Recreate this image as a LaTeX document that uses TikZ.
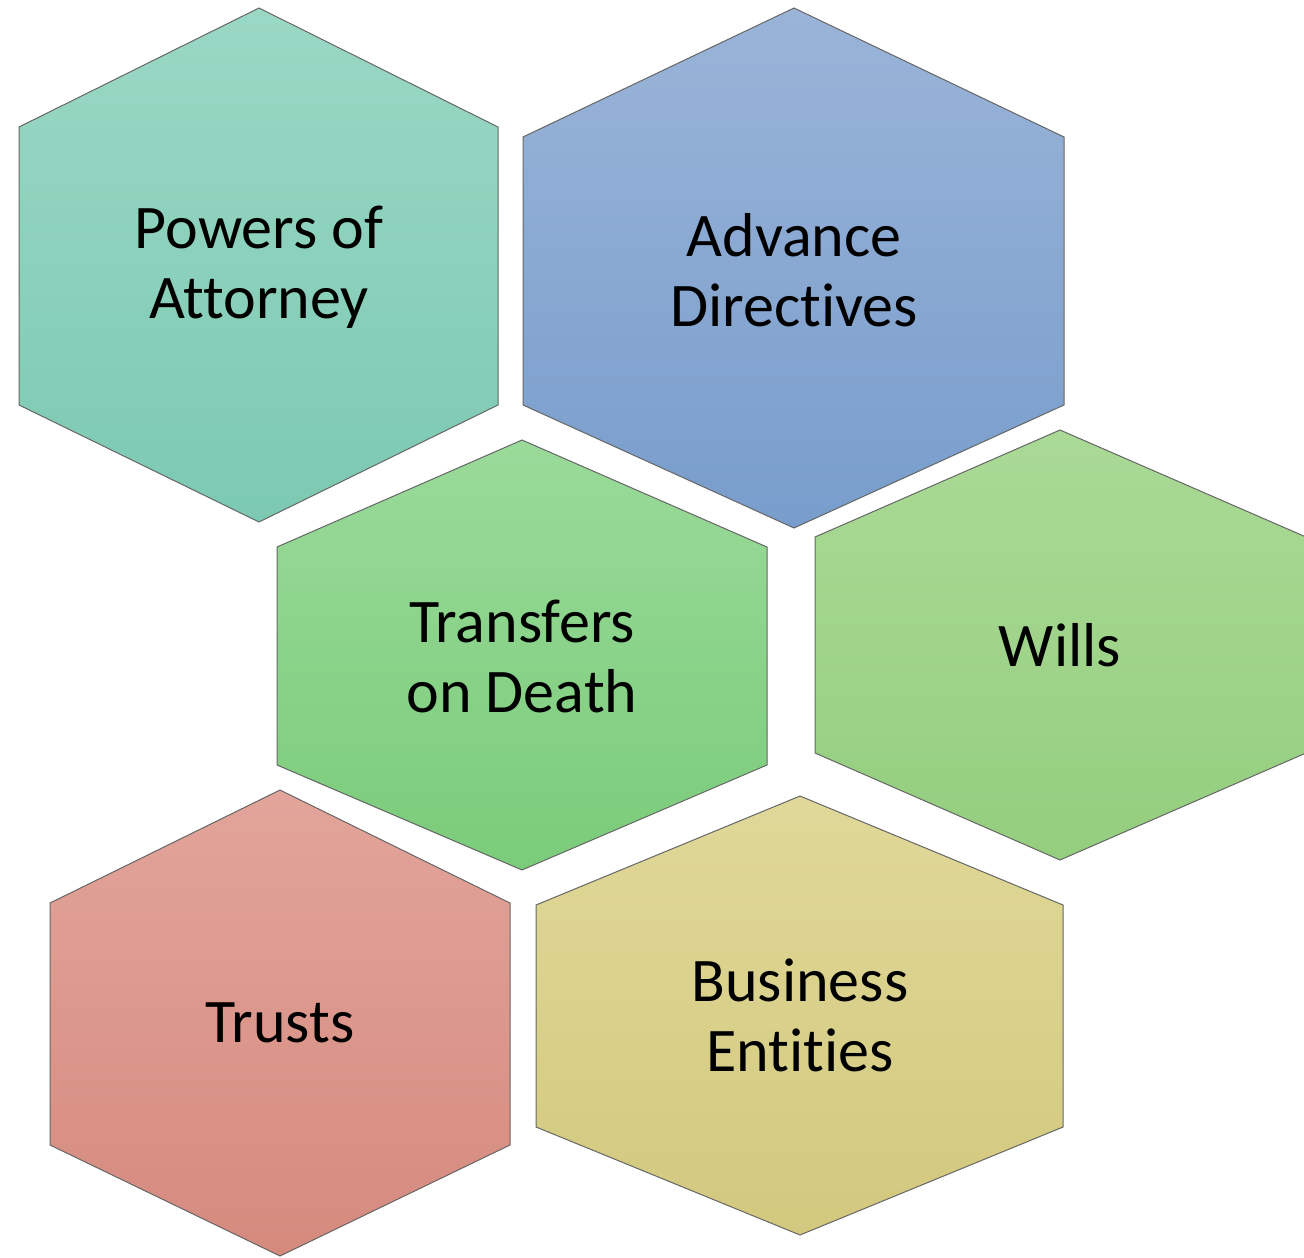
\documentclass[tikz,border=0pt]{standalone}
\usepackage{fontspec}
\newfontfamily\hexfont[Ligatures={NoCommon}]{Carlito}
\definecolor{tealT}{RGB}{154,216,196}
\definecolor{tealB}{RGB}{124,201,178}
\definecolor{blueT}{RGB}{154,180,216}
\definecolor{blueB}{RGB}{120,157,204}
\definecolor{grnT}{RGB}{154,218,154}
\definecolor{grnB}{RGB}{122,204,122}
\definecolor{lgrT}{RGB}{170,218,150}
\definecolor{lgrB}{RGB}{148,206,126}
\definecolor{redT}{RGB}{226,164,154}
\definecolor{redB}{RGB}{214,138,126}
\definecolor{ylwT}{RGB}{224,216,152}
\definecolor{ylwB}{RGB}{210,200,126}
\tikzset{
  hexbox/.style={draw=black!60, line width=1pt, line join=miter},
  lbl/.style={font=\hexfont\fontsize{62}{70}\selectfont, align=center, text=black, inner sep=0pt}
}
% #1 left, #2 cx, #3 right, #4 top, #5 upper side, #6 lower side, #7 bottom, #8 top colour, #9 bottom colour
\newcommand{\hexagonshape}[9]{%
  \shadedraw[hexbox, top color=#8, bottom color=#9]
    (#2,#4) -- (#3,#5) -- (#3,#6) -- (#2,#7) -- (#1,#6) -- (#1,#5) -- cycle;}
\begin{document}
\begin{tikzpicture}[x=1pt, y=-1pt]
\useasboundingbox (0,0) rectangle (1304,1258);
\hexagonshape{19}{259}{498}{8}{127}{405}{522}{tealT}{tealB}
\hexagonshape{523}{794}{1064}{8}{137}{405}{528}{blueT}{blueB}
\hexagonshape{277}{522}{767}{440}{547}{765}{870}{grnT}{grnB}
\hexagonshape{815}{1060}{1306}{430}{537}{753}{860}{lgrT}{lgrB}
\hexagonshape{50}{280}{510}{790}{903}{1145}{1256}{redT}{redB}
\hexagonshape{536}{800}{1063}{796}{905}{1127}{1235}{ylwT}{ylwB}
\node[lbl] (poa) at (259,267) {Powers of\\Attorney};
\node[lbl] (adv) at (794,270) {Advance\\Directives};
\node[lbl] (tod) at (522,656) {Transfers\\on Death};
\node[lbl] (wills) at (1060,645) {Wills};
\node[lbl] (trusts) at (280,1023) {Trusts};
\node[lbl] (biz) at (800,1015) {Business\\Entities};
\end{tikzpicture}
\end{document}
